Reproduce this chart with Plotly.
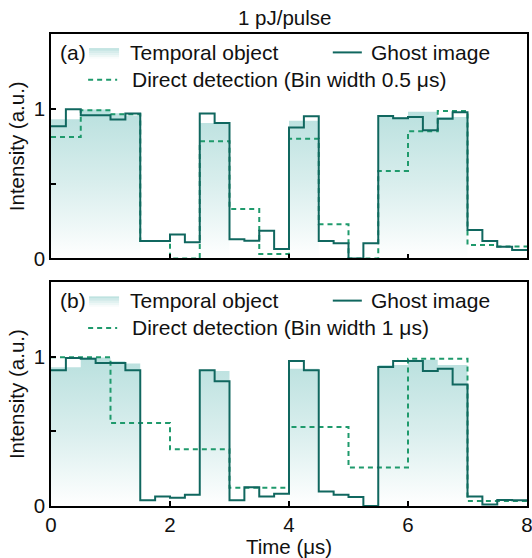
import numpy as np
import plotly.graph_objects as go

# ---------------- data ----------------
bin_ghost = 0.25
bin_direct_a = 0.5
bin_direct_b = 1.0
t_max = 8.0

temporal_object = [0.93, 0.93, 0.995, 0.995, 0.97, 0.955, 0, 0, 0, 0, 0.905, 0.905, 0, 0, 0, 0,
                   0.92, 0.92, 0, 0, 0, 0, 0.945, 0.945, 0.98, 0.98, 0.945, 0.945, 0, 0, 0, 0]

ghost_a = [0.883, 0.997, 0.957, 0.957, 0.928, 0.968, 0.117, 0.117, 0.161, 0.108, 0.968, 0.905,
           0.128, 0.119, 0.186, 0.063, 0.875, 0.95, 0.117, 0.101, 0.0, 0.101, 0.952, 0.937,
           0.945, 0.857, 0.934, 0.977, 0.19, 0.117, 0.079, 0.057]
direct_a = [0.812, 0.99, 0.963, 0.117, 0.0, 0.783, 0.33, 0.03, 0.80, 0.228, 0.0, 0.585,
            0.85, 0.985, 0.09, 0.08]

ghost_b = [0.91, 0.993, 0.987, 0.958, 0.958, 0.91, 0.038, 0.064, 0.056, 0.075, 0.91, 0.837,
           0.038, 0.126, 0.064, 0.082, 0.972, 0.91, 0.097, 0.075, 0.06, 0.0, 0.932, 0.972,
           0.972, 0.905, 0.92, 0.815, 0.064, 0.01, 0.04, 0.038]
direct_b = [0.998, 0.556, 0.38, 0.122, 0.53, 0.258, 0.987, 0.033]

x_ticks = [0, 2, 4, 6, 8]
y_ticks = [0, 0.5, 1]
y_ticktext = ["0", "", "1"]

title_text = "1 pJ/pulse"
panel_labels = ["(a)", "(b)"]
legend_names = ["Temporal object", "Ghost image"]
direct_names = ["Direct detection (Bin width 0.5 μs)", "Direct detection (Bin width 1 μs)"]
x_title = "Time (μs)"
y_title = "Intensity (a.u.)"

# ---------------- styles ----------------
FONT = "Liberation Sans, Arial, sans-serif"
FS = 20.5
FS_LEG = 21
TXT_C = "#111"
GHOST_C = "#10675f"
DIRECT_C = "#1f9a6c"
FILL_SCALE = [[0, "rgba(255,255,255,1)"], [0.5, "#d9eeed"], [1, "#b9e0de"]]


def edges(width, n):
    return list(np.arange(n + 1) * width)


def step_y(vals):
    return list(vals) + [vals[-1]]


fig = go.Figure()

panels = [
    ("x", "y", ghost_a, direct_a, bin_direct_a),
    ("x2", "y2", ghost_b, direct_b, bin_direct_b),
]

for xa, ya, ghost, direct, bw in panels:
    fig.add_trace(go.Scatter(
        x=edges(bin_ghost, len(temporal_object)), y=step_y(temporal_object),
        xaxis=xa, yaxis=ya, mode="lines", line=dict(width=0, shape="hv"),
        fill="tozeroy",
        fillgradient=dict(type="vertical", colorscale=FILL_SCALE, start=0, stop=1.0),
        showlegend=False, hoverinfo="skip"))
    fig.add_trace(go.Scatter(
        x=edges(bw, len(direct)), y=step_y(direct),
        xaxis=xa, yaxis=ya, mode="lines",
        line=dict(color=DIRECT_C, width=2, dash="5px,4px", shape="hv"),
        showlegend=False))
    fig.add_trace(go.Scatter(
        x=edges(bin_ghost, len(ghost)), y=step_y(ghost),
        xaxis=xa, yaxis=ya, mode="lines",
        line=dict(color=GHOST_C, width=2, shape="hv"),
        showlegend=False))

axis_common = dict(showline=True, mirror=True, linecolor="black", linewidth=1.5,
                   ticks="inside", ticklen=5, tickwidth=1.5, tickcolor="black",
                   showgrid=False, zeroline=False, automargin=False,
                   ticklabeloverflow="allow",
                   tickfont=dict(family=FONT, size=FS, color=TXT_C))

fig.update_layout(
    width=532, height=558, autosize=False,
    margin=dict(l=51, r=5, t=34, b=52),
    paper_bgcolor="white", plot_bgcolor="white",
    font=dict(family=FONT, size=FS, color=TXT_C),
    xaxis=dict(domain=[0, 1], anchor="y", range=[0, t_max], tickvals=x_ticks,
               showticklabels=False, **axis_common),
    yaxis=dict(domain=[0.5244, 1], anchor="x", range=[0, 1.5], tickvals=y_ticks,
               ticktext=y_ticktext, title=dict(text=y_title, standoff=4,
                                               font=dict(family=FONT, size=FS)),
               **axis_common),
    xaxis2=dict(domain=[0, 1], anchor="y2", range=[0, t_max], tickvals=x_ticks,
                title=dict(text=x_title, standoff=4, font=dict(family=FONT, size=FS)),
                **axis_common),
    yaxis2=dict(domain=[0, 0.474], anchor="x2", range=[0, 1.5], tickvals=y_ticks,
                ticktext=y_ticktext, title=dict(text=y_title, standoff=4,
                                                font=dict(family=FONT, size=FS)),
                **axis_common),
    showlegend=False,
)

fig.add_annotation(text=title_text, xref="paper", yref="paper", x=0.49, y=1,
                   yshift=17, yanchor="middle", showarrow=False,
                   font=dict(family=FONT, size=FS, color=TXT_C))

# manual legends
for i, (xa, ya) in enumerate([("x", "y"), ("x2", "y2")]):
    xr = xa + " domain"
    yr = ya + " domain"
    row1, row2 = 0.918, 0.796
    fig.add_annotation(text=panel_labels[i], xref=xr, yref=yr, x=0.046, y=row1,
                       xanchor="center", yanchor="middle", showarrow=False,
                       font=dict(family=FONT, size=FS_LEG, color=TXT_C))
    n_strips = 6
    y0s, y1s = 0.89, 0.937
    for k in range(n_strips):
        frac = (k + 0.5) / n_strips
        r = int(255 + (185 - 255) * frac)
        g = int(255 + (224 - 255) * frac)
        b = int(255 + (222 - 255) * frac)
        fig.add_shape(type="rect", xref=xr, yref=yr, x0=0.080, x1=0.143,
                      y0=y0s + (y1s - y0s) * k / n_strips,
                      y1=y0s + (y1s - y0s) * (k + 1) / n_strips,
                      line=dict(width=0), fillcolor=f"rgb({r},{g},{b})", layer="above")
    fig.add_annotation(text=legend_names[0], xref=xr, yref=yr, x=0.162, y=row1,
                       xanchor="left", yanchor="middle", showarrow=False,
                       font=dict(family=FONT, size=FS_LEG, color=TXT_C))
    fig.add_shape(type="line", xref=xr, yref=yr, x0=0.592, x1=0.653, y0=row1, y1=row1,
                  line=dict(color=GHOST_C, width=2))
    fig.add_annotation(text=legend_names[1], xref=xr, yref=yr, x=0.668, y=row1,
                       xanchor="left", yanchor="middle", showarrow=False,
                       font=dict(family=FONT, size=FS_LEG, color=TXT_C))
    fig.add_shape(type="line", xref=xr, yref=yr, x0=0.078, x1=0.139, y0=row2, y1=row2,
                  line=dict(color=DIRECT_C, width=2, dash="5px,4px"))
    fig.add_annotation(text=direct_names[i], xref=xr, yref=yr, x=0.166, y=row2,
                       xanchor="left", yanchor="middle", showarrow=False,
                       font=dict(family=FONT, size=FS_LEG, color=TXT_C))

fig.write_html("out.html")
